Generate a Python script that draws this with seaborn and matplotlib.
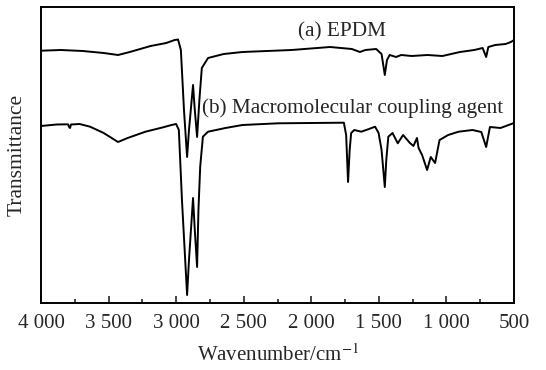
import numpy as np
import pandas as pd
import matplotlib.pyplot as plt
import seaborn as sns
from matplotlib.ticker import MultipleLocator

# FTIR spectra (arbitrary transmittance units)
epdm_wavenumber = [4000, 3853, 3691, 3536, 3430, 3343, 3189, 3073, 3011, 2986,
                   2965, 2942, 2919, 2905, 2875, 2862, 2845, 2828, 2810, 2764,
                   2648, 2509, 2146, 1861, 1700, 1640, 1600, 1520, 1480, 1456,
                   1440, 1420, 1396, 1373, 1334, 1257, 1141, 1030, 900, 794, 732,
                   706, 690, 639, 562, 523, 500]
epdm_transmittance = [249.3, 250, 249, 247, 245, 248, 254, 257, 260, 260.5,
                      250, 190, 143, 170, 215, 190, 163, 200, 232, 242,
                      246, 248, 250, 253, 251, 248, 250, 251, 246, 225,
                      240, 245, 244, 243, 245, 244, 245, 244, 248, 250, 252,
                      243, 253, 255, 256, 258, 260]

coupling_wavenumber = [4000, 3884, 3800, 3792, 3785, 3778, 3714, 3637, 3536, 3430,
                       3359, 3227, 3096, 3034, 3000, 2980, 2957, 2919, 2905, 2875,
                       2862, 2845, 2835, 2822, 2802, 2764, 2635, 2509, 2246, 1759,
                       1742, 1728, 1716, 1705, 1682, 1630, 1579, 1528, 1502, 1480,
                       1456, 1445, 1430, 1399, 1360, 1321, 1270, 1244, 1218, 1206,
                       1180, 1143, 1116, 1084, 1051, 987, 910, 807, 742, 706,
                       678, 600, 500]
coupling_transmittance = [174, 175.5, 175.7, 173, 172, 175.5, 176, 173.3, 167, 158,
                          162, 168.3, 172.7, 175, 176, 170, 100, 5, 40, 102,
                          70, 33, 90, 133.3, 163.3, 168.3, 172, 175, 176.7, 177.3,
                          165, 118, 150, 167, 170, 168.3, 170.7, 173.3, 167, 150,
                          113, 140, 163.3, 167, 156.7, 165, 157, 154, 162, 152,
                          145, 130, 143, 137, 160, 165, 168.3, 170, 168, 153,
                          173, 172, 177]

tick_values = [4000, 3500, 3000, 2500, 2000, 1500, 1000, 500]
tick_labels = ['4 000', '3 500', '3 000', '2 500', '2 000', '1 500', '1 000', '500']

sns.set_style('ticks')
plt.rcParams['font.family'] = ['Liberation Serif', 'DejaVu Serif']
plt.rcParams['mathtext.fontset'] = 'stix'

fig = plt.figure(figsize=(5.46, 3.70), dpi=100)
ax = fig.add_axes([41 / 546, 1 - 303 / 370, 473 / 546, 296 / 370])

df_a = pd.DataFrame({'wn': epdm_wavenumber, 't': epdm_transmittance})
df_b = pd.DataFrame({'wn': coupling_wavenumber, 't': coupling_transmittance})
sns.lineplot(data=df_a, x='wn', y='t', ax=ax, color='black', linewidth=1.4, estimator=None)
sns.lineplot(data=df_b, x='wn', y='t', ax=ax, color='black', linewidth=1.4, estimator=None)

ax.set_xlim(4000, 500)
ax.set_ylim(-3, 293)

# labels for the two traces
ax.text(2100, 264, '(a) EPDM', fontsize=15.3, ha='left', va='baseline')
ax.text(2808, 187, '(b) Macromolecular coupling agent', fontsize=15.3, ha='left', va='baseline')

ax.set_xticks(tick_values)
ax.set_xticklabels(tick_labels, fontsize=15)
ax.xaxis.set_minor_locator(MultipleLocator(250))
ax.tick_params(axis='x', which='major', direction='in', length=5, width=1.2, pad=8)
ax.tick_params(axis='x', which='minor', direction='in', length=3, width=1.2)
ax.set_yticks([])

ax.set_xlabel('Wavenumber/cm$^{-1}$', fontsize=15, labelpad=8)
ax.set_ylabel('Transmittance', fontsize=15.5, labelpad=10)

for spine in ax.spines.values():
    spine.set_visible(True)
    spine.set_linewidth(1.4)
    spine.set_color('black')

fig.savefig('out.png', dpi=100)
